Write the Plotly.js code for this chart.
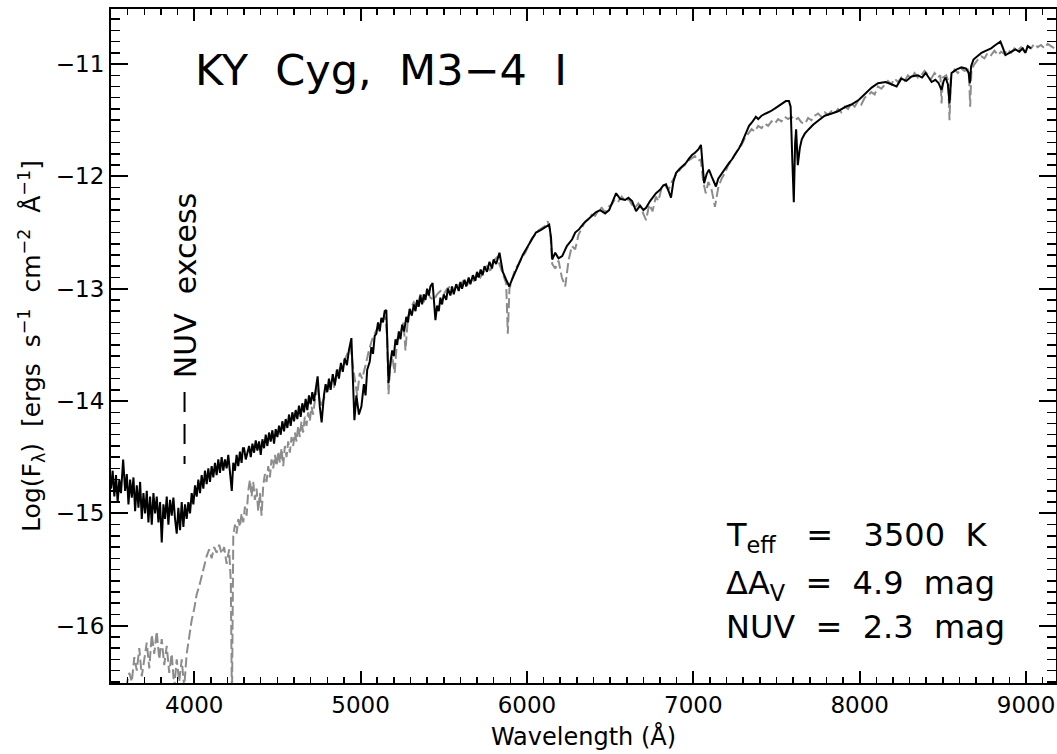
<!DOCTYPE html>
<html>
<head>
<meta charset="utf-8">
<script src="https://cdn.plot.ly/plotly-3.0.1.min.js"></script>
<style>body{margin:0;padding:0;background:#fff;}#chart{width:1057px;height:754px;}</style>
</head>
<body>
<div id="chart"></div>
<script>
// Observed spectrum (black solid): [wavelength Å, log F]
const obsSpectrum = [
[3500,-14.78],[3510,-14.62],[3520,-14.85],[3530,-14.66],[3540,-14.90],[3550,-14.70],[3560,-14.82],[3573,-14.52],[3585,-14.80],[3595,-14.65],
[3605,-14.92],[3615,-14.70],[3625,-14.86],[3635,-14.68],[3645,-14.98],[3655,-14.75],[3665,-14.95],[3675,-14.72],[3685,-15.05],[3695,-14.82],
[3705,-15.00],[3715,-14.80],[3725,-15.08],[3735,-14.85],[3745,-15.10],[3755,-14.82],[3765,-15.00],[3775,-14.85],[3785,-15.08],[3795,-14.90],
[3805,-15.26],[3815,-14.92],[3825,-15.05],[3835,-14.85],[3845,-15.10],[3855,-14.88],[3865,-15.02],[3875,-14.86],[3885,-15.05],[3895,-15.18],
[3905,-14.95],[3915,-15.15],[3925,-14.90],[3935,-15.12],[3945,-14.92],[3955,-15.05],[3965,-14.90],[3975,-15.00],[3985,-14.82],[3995,-14.92],
[4005,-14.75],[4015,-14.85],[4025,-14.70],[4035,-14.82],[4045,-14.66],[4055,-14.78],[4065,-14.62],[4075,-14.74],[4085,-14.60],[4095,-14.72],
[4105,-14.58],[4115,-14.68],[4125,-14.55],[4135,-14.66],[4145,-14.52],[4155,-14.64],[4165,-14.50],[4175,-14.62],[4185,-14.52],[4195,-14.60],
[4205,-14.48],[4215,-14.62],[4226,-14.80],[4235,-14.55],[4245,-14.62],[4255,-14.48],[4265,-14.58],[4275,-14.45],[4285,-14.55],[4293,-14.42],
[4300,-14.42],[4310,-14.52],[4320,-14.46],[4330,-14.40],[4340,-14.50],[4350,-14.38],[4360,-14.46],[4370,-14.35],[4380,-14.44],[4390,-14.36],
[4400,-14.48],[4410,-14.34],[4420,-14.42],[4430,-14.30],[4440,-14.40],[4450,-14.28],[4460,-14.36],[4470,-14.26],[4480,-14.38],[4490,-14.25],
[4500,-14.32],[4510,-14.22],[4520,-14.30],[4530,-14.18],[4540,-14.27],[4550,-14.16],[4560,-14.24],[4570,-14.12],[4580,-14.22],[4590,-14.10],
[4600,-14.18],[4610,-14.08],[4620,-14.16],[4630,-14.04],[4640,-14.14],[4650,-14.02],[4660,-14.10],[4670,-13.98],[4680,-14.08],[4690,-13.95],
[4700,-14.03],[4710,-13.92],[4720,-14.00],[4730,-13.88],[4742,-13.78],[4755,-14.05],[4766,-14.19],[4780,-13.95],[4790,-13.85],[4800,-13.92],
[4810,-13.80],[4820,-13.90],[4833,-13.76],[4845,-13.86],[4858,-13.72],[4870,-13.80],[4882,-13.66],[4893,-13.74],[4905,-13.62],[4918,-13.68],
[4930,-13.55],[4945,-13.44],[4955,-13.80],[4963,-14.17],[4975,-13.95],[4990,-14.12],[5005,-14.05],[5020,-13.85],[5030,-13.95],[5040,-13.72],
[5055,-13.65],[5065,-13.52],[5075,-13.58],[5085,-13.42],[5095,-13.40],[5105,-13.30],[5115,-13.38],[5125,-13.26],[5135,-13.30],[5145,-13.20],
[5155,-13.19],[5162,-13.50],[5168,-13.84],[5180,-13.65],[5190,-13.55],[5200,-13.60],[5210,-13.45],[5220,-13.50],[5230,-13.38],[5240,-13.45],
[5250,-13.32],[5262,-13.38],[5275,-13.25],[5285,-13.30],[5295,-13.18],[5308,-13.24],[5320,-13.14],[5330,-13.20],[5340,-13.10],[5350,-13.16],
[5360,-13.06],[5370,-13.14],[5380,-13.05],[5390,-13.10],[5400,-13.00],[5410,-13.06],[5420,-12.98],[5433,-12.95],[5442,-13.10],[5450,-13.28],
[5460,-13.15],[5470,-13.20],[5480,-13.08],[5490,-13.14],[5500,-13.05],[5515,-13.10],[5525,-13.00],[5540,-13.06],[5550,-12.98],[5560,-13.05],
[5575,-12.96],[5590,-13.02],[5600,-12.94],[5610,-13.00],[5625,-12.92],[5635,-12.98],[5650,-12.90],[5660,-12.96],[5675,-12.88],[5690,-12.93],
[5700,-12.85],[5710,-12.90],[5722,-12.83],[5733,-12.88],[5745,-12.80],[5760,-12.85],[5775,-12.76],[5790,-12.82],[5800,-12.74],[5815,-12.78],
[5835,-12.68],[5855,-12.85],[5875,-12.92],[5894,-12.98],[5910,-12.92],[5930,-12.85],[5954,-12.77],[5975,-12.70],[5994,-12.65],[6020,-12.58],
[6054,-12.50],[6080,-12.48],[6110,-12.45],[6134,-12.43],[6145,-12.55],[6152,-12.74],[6170,-12.68],[6190,-12.73],[6212,-12.71],[6240,-12.62],
[6272,-12.56],[6290,-12.50],[6314,-12.47],[6340,-12.42],[6370,-12.38],[6390,-12.35],[6414,-12.32],[6440,-12.30],[6470,-12.33],[6494,-12.30],
[6515,-12.22],[6536,-12.15],[6560,-12.20],[6590,-12.21],[6610,-12.19],[6632,-12.22],[6656,-12.31],[6680,-12.26],[6700,-12.30],[6716,-12.28],
[6740,-12.22],[6760,-12.18],[6776,-12.15],[6800,-12.12],[6820,-12.08],[6836,-12.07],[6850,-12.12],[6866,-12.19],[6880,-12.05],[6896,-11.97],
[6920,-11.93],[6940,-11.90],[6956,-11.88],[6975,-11.84],[6992,-11.81],[7010,-11.79],[7030,-11.76],[7046,-11.72],[7055,-11.88],[7065,-12.06],
[7080,-11.98],[7094,-11.94],[7110,-12.00],[7125,-12.05],[7136,-12.09],[7150,-12.02],[7172,-11.97],[7195,-11.92],[7215,-11.88],[7232,-11.85],
[7255,-11.80],[7275,-11.75],[7292,-11.70],[7315,-11.62],[7335,-11.55],[7352,-11.52],[7376,-11.47],[7390,-11.49],[7410,-11.46],[7436,-11.44],
[7465,-11.42],[7496,-11.39],[7525,-11.36],[7556,-11.33],[7575,-11.33],[7585,-11.38],[7595,-11.85],[7604,-12.23],[7612,-11.70],[7618,-11.58],
[7628,-11.90],[7640,-11.75],[7652,-11.67],[7670,-11.62],[7694,-11.58],[7720,-11.54],[7754,-11.50],[7790,-11.46],[7832,-11.44],[7870,-11.42],
[7916,-11.38],[7950,-11.36],[7994,-11.32],[8030,-11.27],[8072,-11.21],[8110,-11.17],[8156,-11.16],[8190,-11.18],[8222,-11.20],[8250,-11.13],
[8280,-11.15],[8312,-11.11],[8350,-11.10],[8375,-11.12],[8396,-11.08],[8415,-11.12],[8432,-11.16],[8455,-11.14],[8474,-11.17],[8492,-11.23],
[8505,-11.15],[8516,-11.12],[8530,-11.18],[8540,-11.35],[8552,-11.08],[8580,-11.05],[8612,-11.03],[8640,-11.04],[8655,-11.08],[8662,-11.17],
[8670,-11.02],[8684,-10.96],[8710,-10.93],[8732,-10.90],[8760,-10.88],[8790,-10.86],[8816,-10.83],[8846,-10.80],[8862,-10.86],[8876,-10.92],
[8900,-10.90],[8920,-10.88],[8936,-10.87],[8960,-10.89],[8980,-10.86],[8996,-10.90],[9010,-10.84],[9030,-10.86]
];

// Model spectrum (gray dashed): [wavelength Å, log F]
const modelSpectrum = [
[3500,-16.75],[3560,-16.70],[3590,-16.55],[3610,-16.42],[3625,-16.50],[3640,-16.28],[3655,-16.40],[3670,-16.20],[3685,-16.45],[3700,-16.30],
[3715,-16.15],[3730,-16.38],[3745,-16.08],[3760,-16.25],[3775,-16.05],[3790,-16.30],[3805,-16.12],[3820,-16.35],[3835,-16.18],[3850,-16.42],
[3865,-16.25],[3880,-16.55],[3895,-16.30],[3910,-16.50],[3925,-16.30],[3940,-16.55],[3955,-16.25],[3970,-16.10],[3985,-15.95],[4000,-15.85],
[4015,-15.72],[4030,-15.65],[4045,-15.55],[4060,-15.45],[4075,-15.38],[4090,-15.32],[4105,-15.40],[4120,-15.30],[4135,-15.35],[4150,-15.28],
[4165,-15.36],[4180,-15.30],[4195,-15.45],[4210,-15.32],[4220,-15.60],[4227,-16.70],[4235,-15.20],[4245,-15.10],[4255,-15.18],[4265,-15.05],
[4275,-15.12],[4285,-15.00],[4295,-15.08],[4305,-14.94],[4315,-15.02],[4325,-14.80],[4335,-14.70],[4345,-14.85],[4355,-14.72],[4365,-14.88],
[4375,-14.78],[4385,-14.98],[4395,-14.82],[4405,-15.02],[4415,-14.75],[4425,-14.65],[4435,-14.72],[4445,-14.58],[4455,-14.68],[4465,-14.52],
[4475,-14.60],[4485,-14.48],[4495,-14.58],[4505,-14.45],[4515,-14.55],[4525,-14.42],[4535,-14.58],[4545,-14.40],[4555,-14.50],[4565,-14.36],
[4575,-14.46],[4585,-14.32],[4595,-14.40],[4605,-14.28],[4615,-14.36],[4625,-14.22],[4635,-14.32],[4645,-14.18],[4655,-14.28],[4665,-14.14],
[4675,-14.22],[4685,-14.10],[4695,-14.18],[4705,-14.05],[4715,-14.12],[4725,-14.00],[4742,-13.88],[4760,-14.05],[4780,-13.98],[4800,-13.90],
[4820,-13.85],[4840,-13.88],[4860,-13.75],[4880,-13.70],[4900,-13.65],[4920,-13.58],[4940,-13.52],[4955,-13.70],[4965,-13.80],[4980,-13.95],
[4995,-13.75],[5010,-13.80],[5030,-13.68],[5050,-13.55],[5070,-13.45],[5090,-13.38],[5110,-13.32],[5130,-13.28],[5150,-13.25],[5160,-13.45],
[5168,-13.94],[5178,-13.70],[5190,-13.60],[5205,-13.75],[5220,-13.45],[5240,-13.40],[5258,-13.30],[5270,-13.55],[5285,-13.25],[5300,-13.18],
[5320,-13.12],[5340,-13.16],[5360,-13.05],[5380,-13.12],[5400,-13.02],[5420,-13.08],[5440,-13.10],[5460,-13.05],[5480,-13.02],[5500,-13.05],
[5520,-13.00],[5540,-12.98],[5560,-13.03],[5580,-12.95],[5600,-12.98],[5620,-12.92],[5640,-12.97],[5660,-12.90],[5680,-12.93],[5700,-12.86],
[5720,-12.90],[5740,-12.85],[5760,-12.80],[5780,-12.84],[5800,-12.75],[5820,-12.72],[5840,-12.80],[5860,-12.88],[5875,-12.95],[5885,-13.40],
[5895,-13.00],[5910,-12.92],[5930,-12.82],[5950,-12.78],[5970,-12.72],[5990,-12.68],[6010,-12.62],[6030,-12.55],[6050,-12.52],[6070,-12.48],
[6090,-12.46],[6110,-12.44],[6125,-12.40],[6140,-12.48],[6152,-12.78],[6170,-12.82],[6190,-12.75],[6210,-12.90],[6230,-12.98],[6250,-12.75],
[6270,-12.62],[6290,-12.65],[6310,-12.52],[6330,-12.46],[6350,-12.40],[6370,-12.38],[6390,-12.34],[6410,-12.35],[6430,-12.30],[6450,-12.28],
[6470,-12.32],[6490,-12.27],[6510,-12.25],[6530,-12.20],[6550,-12.22],[6570,-12.18],[6590,-12.22],[6610,-12.20],[6630,-12.25],[6650,-12.28],
[6670,-12.24],[6690,-12.30],[6716,-12.39],[6735,-12.25],[6755,-12.31],[6775,-12.18],[6790,-12.22],[6810,-12.10],[6830,-12.08],[6850,-12.12],
[6870,-12.05],[6890,-12.00],[6910,-11.96],[6930,-11.92],[6950,-11.90],[6970,-11.86],[6990,-11.84],[7010,-11.82],[7030,-11.86],[7045,-11.85],
[7060,-12.05],[7075,-12.15],[7090,-12.05],[7110,-12.12],[7130,-12.27],[7150,-12.10],[7170,-12.02],[7190,-11.97],[7210,-11.90],[7230,-11.86],
[7250,-11.80],[7270,-11.76],[7290,-11.72],[7310,-11.66],[7330,-11.62],[7350,-11.58],[7370,-11.60],[7390,-11.55],[7410,-11.57],[7430,-11.53],
[7450,-11.55],[7470,-11.51],[7490,-11.53],[7510,-11.49],[7530,-11.51],[7550,-11.47],[7570,-11.49],[7590,-11.47],[7610,-11.50],[7630,-11.48],
[7650,-11.52],[7672,-11.53],[7690,-11.48],[7710,-11.50],[7730,-11.46],[7750,-11.44],[7770,-11.47],[7790,-11.43],[7810,-11.45],[7830,-11.42],
[7850,-11.44],[7870,-11.40],[7890,-11.43],[7910,-11.38],[7930,-11.40],[7950,-11.35],[7970,-11.38],[7990,-11.33],[8010,-11.36],[8030,-11.30],
[8050,-11.28],[8070,-11.25],[8090,-11.27],[8110,-11.20],[8130,-11.22],[8150,-11.18],[8170,-11.15],[8190,-11.18],[8210,-11.13],[8230,-11.16],
[8250,-11.12],[8270,-11.15],[8290,-11.10],[8310,-11.13],[8330,-11.08],[8350,-11.12],[8370,-11.10],[8390,-11.06],[8410,-11.10],[8430,-11.13],
[8450,-11.08],[8470,-11.12],[8485,-11.10],[8492,-11.35],[8500,-11.12],[8520,-11.10],[8532,-11.15],[8540,-11.50],[8548,-11.12],[8570,-11.05],
[8590,-11.08],[8610,-11.04],[8630,-11.06],[8650,-11.05],[8658,-11.12],[8664,-11.38],[8672,-11.05],[8690,-11.00],[8710,-10.96],[8730,-10.93],
[8750,-10.95],[8770,-10.90],[8790,-10.92],[8810,-10.88],[8830,-10.92],[8850,-10.89],[8870,-10.91],[8890,-10.87],[8910,-10.90],[8930,-10.86],
[8950,-10.88],[8970,-10.85],[8990,-10.89],[9010,-10.84],[9030,-10.86],[9050,-10.82],[9070,-10.85],[9090,-10.83],[9110,-10.86],[9130,-10.82],
[9150,-10.84],[9170,-10.86],[9190,-10.83]
];

const xTickVals = [4000,5000,6000,7000,8000,9000];
const yTickVals = [-16,-15,-14,-13,-12,-11];

const FONT = 'DejaVu Sans, Liberation Sans, sans-serif';
const NB = '\u00A0';

const traces = [
  {x: modelSpectrum.map(p => p[0]), y: modelSpectrum.map(p => p[1]), type: 'scatter', mode: 'lines',
   line: {color: '#8c8c8c', width: 2, dash: '10px,4px'}, hoverinfo: 'skip'},
  {x: obsSpectrum.map(p => p[0]), y: obsSpectrum.map(p => p[1]), type: 'scatter', mode: 'lines',
   line: {color: '#000000', width: 2}, hoverinfo: 'skip'}
];

const layout = {
  width: 1057, height: 754,
  margin: {l: 111, r: 1, t: 9, b: 71},
  paper_bgcolor: '#fff', plot_bgcolor: '#fff',
  showlegend: false,
  font: {family: FONT, color: '#000', size: 20},
  xaxis: {
    range: [3500, 9180], showgrid: false, zeroline: false,
    showline: true, linecolor: '#000', linewidth: 2, mirror: 'ticks',
    ticks: 'inside', ticklen: 12, tickwidth: 2, tickcolor: '#000',
    tickvals: xTickVals, ticktext: xTickVals.map(String),
    tickfont: {size: 23, family: FONT},
    minor: {dtick: 100, ticks: 'inside', ticklen: 6, tickwidth: 1.5, tickcolor: '#000'},
    title: {text: 'Wavelength' + NB + '(Å)', font: {size: 24, family: FONT}, standoff: 12}
  },
  yaxis: {
    range: [-16.51, -10.51], showgrid: false, zeroline: false,
    showline: true, linecolor: '#000', linewidth: 2, mirror: 'ticks',
    ticks: 'inside', ticklen: 17, tickwidth: 2, tickcolor: '#000',
    tickvals: yTickVals, ticktext: yTickVals.map(v => '\u2212' + Math.abs(v)),
    tickfont: {size: 23, family: FONT},
    minor: {dtick: 0.1, ticks: 'inside', ticklen: 9, tickwidth: 1.5, tickcolor: '#000'},
    title: {text: 'Log(F<sub>λ</sub>)' + NB+NB + '[ergs' + NB+NB + 's<sup>−1</sup>' + NB+NB + 'cm<sup>−2</sup>' + NB+NB + 'Å<sup>−1</sup>]',
            font: {size: 25, family: FONT}, standoff: 8}
  },
  shapes: [
    {type: 'line', xref: 'x', yref: 'y', x0: 3942, x1: 3942, y0: -13.92, y1: -14.56,
     line: {color: '#000', width: 2, dash: '20px,12px'}}
  ],
  annotations: [
    {text: 'KY' + NB+NB + 'Cyg,' + NB+NB + 'M3−4' + NB+NB + 'I', xref: 'paper', yref: 'paper', x: 0.087, y: 0.9095,
     xanchor: 'left', yanchor: 'middle', showarrow: false, font: {size: 43, family: FONT}},
    {text: 'NUV' + NB+NB + 'excess', xref: 'x', yref: 'y', x: 3944, y: -12.97, textangle: -90,
     xanchor: 'center', yanchor: 'middle', showarrow: false, font: {size: 30, family: FONT}},
    {text: 'T<sub>eff</sub>' + NB+NB+NB + '=' + NB+NB+NB + '3500' + NB+NB + 'K', xref: 'paper', yref: 'paper', x: 0.649, y: 0.217,
     xanchor: 'left', yanchor: 'middle', showarrow: false, font: {size: 32, family: FONT}},
    {text: 'ΔA<sub>V</sub>' + NB+NB + '=' + NB+NB + '4.9' + NB+NB + 'mag', xref: 'paper', yref: 'paper', x: 0.649, y: 0.145,
     xanchor: 'left', yanchor: 'middle', showarrow: false, font: {size: 32, family: FONT}},
    {text: 'NUV' + NB+NB + '=' + NB+NB + '2.3' + NB+NB + 'mag', xref: 'paper', yref: 'paper', x: 0.649, y: 0.083,
     xanchor: 'left', yanchor: 'middle', showarrow: false, font: {size: 32, family: FONT}}
  ]
};

Plotly.newPlot('chart', traces, layout, {displayModeBar: false, staticPlot: true});
</script>
</body>
</html>
